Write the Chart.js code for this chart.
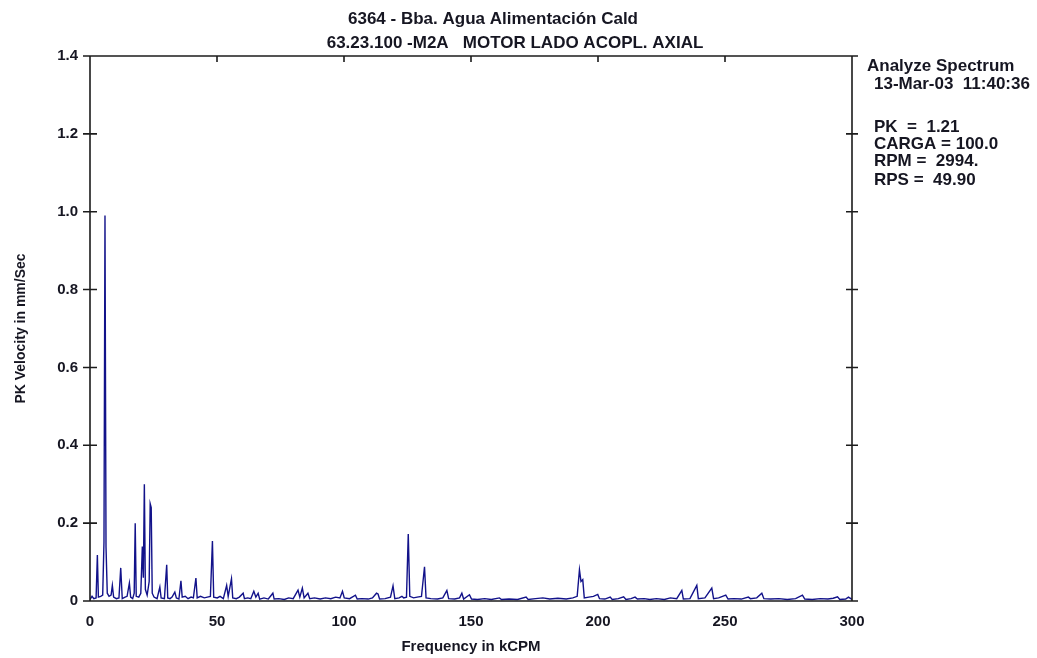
<!DOCTYPE html>
<html>
<head>
<meta charset="utf-8">
<title>Analyze Spectrum</title>
<script src="https://cdn.jsdelivr.net/npm/chart.js@4.4.1/dist/chart.umd.min.js"></script>
<style>
  html, body { margin: 0; padding: 0; background: #fff; }
</style>
</head>
<body>
<canvas id="mainCanvas" width="1037" height="658"></canvas>
<script>
// Spectrum lines: frequency (kCPM) and peak velocity (mm/Sec)
const freqKcpm = [
  0.0, 0.8, 1.5, 2.4, 2.9, 3.3, 4.2, 5.0, 5.5, 5.9, 6.3, 6.8, 7.5, 8.3, 8.8, 9.3,
  10.4, 11.4, 12.1, 12.7, 13.8, 14.6, 15.5, 16.0, 16.8, 17.4, 17.8, 18.2, 19.2, 20.0,
  20.6, 21.0, 21.4, 21.8, 22.5, 23.3, 23.7, 24.1, 24.5, 25.2, 26.4, 27.5, 28.0, 29.3,
  30.2, 30.6, 31.5, 32.3, 33.4, 34.0, 35.0, 35.8, 36.3, 37.5, 38.6, 39.8, 40.7, 41.7,
  42.2, 43.5, 45.0, 46.2, 47.4, 48.2, 48.7, 50.1, 51.2, 52.5, 53.8, 54.4, 55.7, 56.2,
  57.6, 58.8, 60.3, 60.8, 62.1, 63.3, 64.5, 65.3, 66.2, 66.8, 68.5, 70.2, 72.0, 72.5,
  74.3, 76.5, 78.2, 80.0, 81.9, 82.6, 83.6, 84.3, 85.8, 86.5, 88.4, 90.6, 92.7, 94.8,
  96.7, 98.4, 99.4, 100.1, 102.2, 104.5, 105.2, 107.0, 109.5, 111.2, 112.8, 113.4,
  114.0, 116.2, 118.3, 119.3, 120.0, 121.7, 122.8, 123.5, 124.6, 125.3, 125.9, 127.4,
  128.8, 130.5, 131.7, 132.3, 134.2, 136.8, 138.9, 140.5, 141.2, 143.6, 145.5, 146.4,
  147.1, 149.4, 150.2, 152.5, 155.4, 158.0, 161.2, 162.0, 165.0, 168.3, 171.7, 172.5,
  175.4, 178.3, 181.0, 184.2, 187.5, 190.1, 191.8, 192.7, 193.3, 194.0, 194.6, 196.4,
  198.2, 199.9, 200.6, 202.7, 204.8, 205.6, 208.0, 210.1, 211.0, 213.0, 214.6, 215.5,
  218.2, 220.4, 223.0, 226.1, 228.5, 231.0, 233.0, 233.6, 236.2, 238.9, 239.5, 242.1,
  244.8, 245.5, 247.5, 250.3, 251.2, 253.5, 256.4, 259.2, 260.0, 262.5, 264.5, 265.3,
  268.0, 271.2, 274.5, 277.8, 280.5, 281.4, 284.3, 287.5, 290.5, 292.6, 294.3, 295.2,
  297.5, 298.6, 300.0
];
const pkVelocity = [
  0.004, 0.012, 0.006, 0.008, 0.118, 0.010, 0.012, 0.015, 0.150, 0.990, 0.140, 0.020, 0.012, 0.015, 0.040, 0.010,
  0.006, 0.008, 0.085, 0.006, 0.010, 0.012, 0.046, 0.010, 0.006, 0.020, 0.200, 0.012, 0.010, 0.020,
  0.140, 0.060, 0.300, 0.030, 0.015, 0.050, 0.250, 0.240, 0.020, 0.010, 0.006, 0.036, 0.008, 0.006,
  0.093, 0.008, 0.006, 0.010, 0.023, 0.008, 0.005, 0.052, 0.010, 0.012, 0.006, 0.010, 0.008, 0.059,
  0.008, 0.012, 0.008, 0.010, 0.012, 0.154, 0.010, 0.008, 0.012, 0.006, 0.040, 0.012, 0.057, 0.008,
  0.006, 0.010, 0.020, 0.006, 0.008, 0.006, 0.025, 0.010, 0.020, 0.005, 0.008, 0.005, 0.020, 0.005,
  0.006, 0.004, 0.008, 0.006, 0.028, 0.010, 0.033, 0.008, 0.020, 0.006, 0.008, 0.005, 0.008, 0.006,
  0.010, 0.008, 0.025, 0.008, 0.006, 0.015, 0.005, 0.006, 0.005, 0.008, 0.020, 0.018,
  0.005, 0.006, 0.010, 0.039, 0.006, 0.008, 0.012, 0.008, 0.010, 0.172, 0.012, 0.008,
  0.010, 0.012, 0.088, 0.008, 0.006, 0.005, 0.008, 0.027, 0.006, 0.005, 0.008, 0.020,
  0.005, 0.016, 0.005, 0.004, 0.006, 0.004, 0.008, 0.004, 0.005, 0.004, 0.010, 0.004,
  0.006, 0.008, 0.005, 0.007, 0.005, 0.008, 0.012, 0.080, 0.050, 0.055, 0.008, 0.010,
  0.012, 0.017, 0.006, 0.005, 0.010, 0.004, 0.006, 0.011, 0.004, 0.006, 0.010, 0.005,
  0.006, 0.004, 0.006, 0.004, 0.008, 0.006, 0.027, 0.005, 0.006, 0.040, 0.006, 0.008,
  0.033, 0.006, 0.008, 0.015, 0.005, 0.006, 0.005, 0.010, 0.006, 0.008, 0.020, 0.006,
  0.005, 0.006, 0.004, 0.006, 0.015, 0.005, 0.004, 0.006, 0.005, 0.007, 0.011, 0.004,
  0.005, 0.010, 0.004
];

const xTicks = [0, 50, 100, 150, 200, 250, 300];
const yTicks = [0, 0.2, 0.4, 0.6, 0.8, 1.0, 1.2, 1.4];

const titleLines = [
  "6364 - Bba. Agua Alimentación Cald",
  "63.23.100 -M2A   MOTOR LADO ACOPL. AXIAL"
];
const infoLines = [
  "Analyze Spectrum",
  "13-Mar-03  11:40:36",
  "PK  =  1.21",
  "CARGA = 100.0",
  "RPM =  2994.",
  "RPS =  49.90"
];

const FONT = "'Liberation Sans', Arial, sans-serif";
const INK = "#161622";
const TRACE = "#12128a";

/**
 * Box around the plot with ticks crossing the left and right edges
 * and short ticks hanging from the top edge
 */
const framePlugin = {
  id: "frame",
  afterDatasetsDraw(chart) {
    const {ctx, chartArea: a, scales: {x, y}} = chart;
    ctx.save();
    ctx.strokeStyle = "#1c1c1c";
    ctx.lineWidth = 1.6;
    ctx.beginPath();
    ctx.moveTo(a.left - 7, a.top); ctx.lineTo(a.right + 6, a.top);
    ctx.moveTo(a.left - 7, a.bottom); ctx.lineTo(a.right + 6, a.bottom);
    ctx.moveTo(a.left, a.top); ctx.lineTo(a.left, a.bottom);
    ctx.moveTo(a.right, a.top); ctx.lineTo(a.right, a.bottom);
    yTicks.forEach(v => {
      const py = y.getPixelForValue(v);
      ctx.moveTo(a.left - 7, py); ctx.lineTo(a.left + 7, py);
      ctx.moveTo(a.right - 6, py); ctx.lineTo(a.right + 6, py);
    });
    xTicks.slice(1, -1).forEach(v => {
      const px = x.getPixelForValue(v);
      ctx.moveTo(px, a.top); ctx.lineTo(px, a.top + 6);
    });
    ctx.stroke();
    ctx.restore();
  }
};

/**
 * Header above the plot and the reading summary on the right
 */
const textPlugin = {
  id: "headerText",
  afterDraw(chart) {
    const ctx = chart.ctx;
    ctx.save();
    ctx.fillStyle = INK;
    ctx.textBaseline = "alphabetic";
    ctx.font = `bold 17px ${FONT}`;
    ctx.textAlign = "center";
    ctx.fillText(titleLines[0], 493, 24);
    ctx.fillText(titleLines[1], 515, 48);

    ctx.font = `bold 17px ${FONT}`;
    ctx.textAlign = "left";
    const infoPos = [[867, 71], [874, 89], [874, 132], [874, 149], [874, 166], [874, 185]];
    infoLines.forEach((t, i) => ctx.fillText(t, infoPos[i][0], infoPos[i][1]));
    ctx.restore();
  }
};

(function main() {
  const ctx = document.getElementById("mainCanvas").getContext("2d");
  const points = freqKcpm.map((f, i) => ({x: f, y: pkVelocity[i]}));

  new Chart(ctx, {
    type: "line",
    data: {
      datasets: [{
        data: points,
        borderColor: TRACE,
        borderWidth: 1.4,
        pointRadius: 0,
        tension: 0,
        fill: false,
      }],
    },
    options: {
      responsive: false,
      animation: false,
      layout: {
        padding: {top: 56, right: 185, left: 0, bottom: 0},
      },
      plugins: {
        legend: {display: false},
        tooltip: {enabled: false},
      },
      scales: {
        x: {
          type: "linear",
          min: 0,
          max: 300,
          afterBuildTicks(scale) {
            scale.ticks = xTicks.map(v => ({value: v}));
          },
          afterFit(scale) {
            scale.height = 57;
          },
          grid: {display: false, drawTicks: false},
          border: {display: false},
          ticks: {
            padding: 12,
            maxRotation: 0,
            color: INK,
            font: {family: FONT, size: 15, weight: "bold"},
          },
          title: {
            display: true,
            text: "Frequency in kCPM",
            color: INK,
            font: {family: FONT, size: 15, weight: "bold"},
            padding: {top: 0, bottom: 2},
          },
        },
        y: {
          min: 0,
          max: 1.4,
          afterBuildTicks(scale) {
            scale.ticks = yTicks.map(v => ({value: v}));
          },
          afterFit(scale) {
            scale.width = 90;
          },
          grid: {display: false, drawTicks: false},
          border: {display: false},
          ticks: {
            padding: 12,
            color: INK,
            font: {family: FONT, size: 15, weight: "bold"},
            callback: v => v === 0 ? "0" : v.toFixed(1),
          },
          title: {
            display: true,
            text: "PK Velocity in mm/Sec",
            color: INK,
            font: {family: FONT, size: 14, weight: "bold"},
            padding: {top: 13, bottom: 0},
          },
        },
      },
    },
    plugins: [framePlugin, textPlugin],
  });
})();
</script>
</body>
</html>
